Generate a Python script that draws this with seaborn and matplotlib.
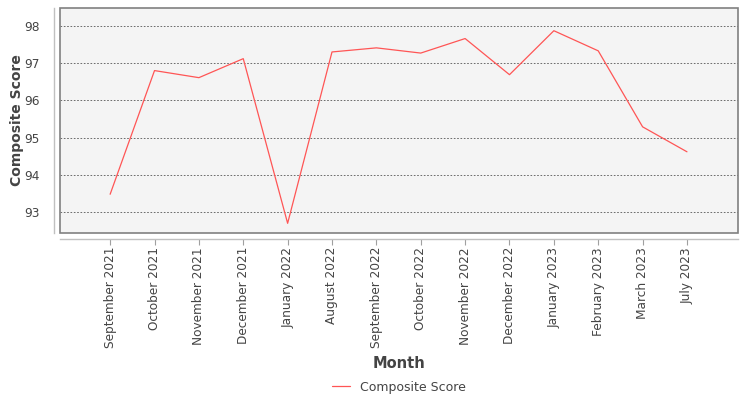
import matplotlib
matplotlib.use("Agg")
import matplotlib.pyplot as plt
import seaborn as sns
import pandas as pd
from matplotlib.patches import Rectangle

months = ["September 2021", "October 2021", "November 2021", "December 2021",
          "January 2022", "August 2022", "September 2022", "October 2022",
          "November 2022", "December 2022", "January 2023", "February 2023",
          "March 2023", "July 2023"]
scores = [93.48, 96.80, 96.61, 97.12, 92.70, 97.30, 97.41, 97.27,
          97.66, 96.69, 97.87, 97.33, 95.29, 94.62]
y_ticks = [93, 94, 95, 96, 97, 98]

df = pd.DataFrame({"Month": months, "Composite Score": scores})

sns.set_style("white")
plt.rcParams["font.family"] = ["DejaVu Sans"]

fig, ax = plt.subplots(figsize=(7.5, 4), dpi=100)
fig.subplots_adjust(left=0.08, right=0.984, top=0.98, bottom=0.4175)
ax.set_facecolor("#f4f4f4")

sns.lineplot(data=df, x="Month", y="Composite Score", sort=False,
             color="#ff5555", linewidth=0.9, ax=ax, label="Composite Score",
             legend=False)

ax.set_ylim(92.44, 98.48)
ax.set_xlim(-1.13, 14.15)
ax.set_yticks(y_ticks)
ax.set_xticks(range(len(months)))
ax.set_xticklabels(months)
ax.yaxis.grid(True, linestyle=(0, (2, 2)), color="#555555", linewidth=0.6)
ax.xaxis.grid(False)

# plot border + offset axis lines
ax.add_patch(Rectangle((0, 0), 1, 1, transform=ax.transAxes, fill=False,
                       edgecolor="#808080", linewidth=1.2, clip_on=False, zorder=5))
for side in ["top", "right"]:
    ax.spines[side].set_visible(False)
for side in ["left", "bottom"]:
    ax.spines[side].set_position(("outward", 4))
    ax.spines[side].set_color("#c0c0c0")
    ax.spines[side].set_linewidth(1)

ax.tick_params(axis="x", bottom=True, direction="out", length=4, width=0.8,
               color="#a0a0a0", labelsize=8.7, labelcolor="#444444",
               labelrotation=90, pad=2)
ax.tick_params(axis="y", left=False, labelsize=8.7, labelcolor="#444444", pad=7)

ax.set_xlabel("Month", fontsize=10.5, fontweight="bold", color="#444444", va="center")
ax.set_ylabel("Composite Score", fontsize=10, fontweight="bold", color="#444444", va="center")
ax.xaxis.set_label_coords(0.5, -0.578)
ax.yaxis.set_label_coords(-0.063, 0.50)

handles, labels = ax.get_legend_handles_labels()
fig.legend(handles, labels, loc="center", bbox_to_anchor=(0.532, 0.032),
           frameon=False, fontsize=9, handlelength=1.5, labelcolor="#444444")

fig.savefig("out.png", dpi=100)
